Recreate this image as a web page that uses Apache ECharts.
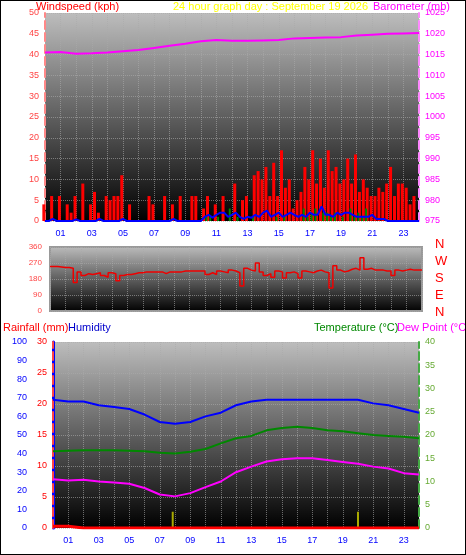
<!DOCTYPE html><html><head><meta charset="utf-8">
<script src="https://cdn.jsdelivr.net/npm/echarts@6/dist/echarts.min.js"></script>
<style>html,body{margin:0;padding:0;background:#fff}#c{width:466px;height:555px;box-sizing:border-box;border:1px solid #000}</style>
</head><body><div id="c"></div><script>
// 15-minute samples
const windGust=[4,0,6,0,6,0,4,2,6,0,9,0,4,7,2,0,6,5,6,6,11,0,4,0,0,0,0,6,4,0,0,6,0,4,0,6,0,0,6,6,0,3,6,0,4,0,6,0,0,9,0,5,6,0,11,12,10,13,6,14,6,17,8,10,3,5,7,13,10,17,9,15,8,17,12,13,9,10,15,9,16,7,10,8,6,6,8,7,9,13,6,9,9,8,4,6,0];
const windAvg=[0,0,0.5,0,0,0,0,0,0.4,0,0,0,0,0,0.5,0,0,0,0,0,0.5,0,0,0,0,0,0,0,0,0,0,0,0,0.5,0,0,0,0,0,0,0,1,1.5,0.8,1.5,2,2,1,1.5,2,1,0.5,1,0.8,1.5,1,2,2.5,1,1.5,2,1,1.5,2,1.5,1,1.5,1,2,1.5,1.5,3.5,1.5,1.5,1,2,1.5,2,2,1.5,1,1,1,1,1.5,0.5,0.5,0.5,0,0,0,0,0,0,0,0,0];
const windGreen=[0,0,0,0,0,0,0,0,0,0,0,0,0,0,0,0,0,0,0,0,0,0,0,0,0,0,0,0,0,0,0,0,0,0,0,0,0,0,0,0,0,1,1,0,1,0,0,3,0,1,0,0,0,1,0,0,0,0,0,1,0,1,0,0,0,0,3,1,2,3,0,2,2,1,2,0,1,0,3,1,2,1,3,0,0,0,0,0,0,0,0,0,0,0,0,0,0];
const windDir=[250,250,248,245,245,240,160,220,200,210,205,210,215,200,190,215,210,170,200,205,205,210,215,215,220,220,220,220,220,210,220,220,220,220,225,225,225,225,225,225,205,215,205,225,220,215,230,225,215,140,240,230,225,270,220,200,210,190,225,220,185,215,220,210,185,225,220,215,225,230,220,215,130,255,230,220,225,235,240,230,300,235,240,230,230,230,225,225,200,230,225,230,235,230,230,230,230];
const hours=[0,1,2,3,4,5,6,7,8,9,10,11,12,13,14,15,16,17,18,19,20,21,22,23,24];
const baro=[1015.5,1015.6,1015.2,1015.3,1015.5,1015.8,1016.1,1016.6,1017.1,1017.6,1018.2,1018.5,1018.3,1018.3,1018.4,1018.5,1018.9,1019.0,1019.1,1019.2,1019.6,1019.8,1020.0,1020.1,1020.2];
const humidity=[69,68,68,66,65,64,61,57,56,57,60,62,66,68,69,69,69,69,69,69,69,67,66,64,62];
const temperature=[16.5,16.6,16.7,16.7,16.7,16.6,16.5,16.2,16.0,16.4,17.0,18.2,19.3,19.8,21.0,21.5,21.8,21.5,21.0,20.8,20.4,20.0,19.8,19.6,19.3];
const dewPoint=[10.5,10.2,10.4,10.0,9.8,9.5,8.6,7.2,6.8,7.5,8.8,10.0,12.0,13.2,14.3,14.8,15.0,15.0,14.6,14.2,13.8,13.2,12.8,11.8,11.5];
const rainfall=[0.3,0,0,0,0,0,0,0,0,0,0,0,0,0,0,0,0,0,0,0,0,0,0,0,0];
const markers=[[7.85,3.5],[20,3.5]];
const dirLabels=['N','W','S','E','N'];

const q=(a)=>a.map((v,i)=>[i/4,v]);
const hz=(a)=>a.map((v,i)=>[hours[i],v]);
const F='Liberation Sans';
const bg={type:'linear',x:0,y:0,x2:0,y2:1,colorStops:[{offset:0,color:'#bdbdbd'},{offset:1,color:'#000'}]};
const sl={show:true,lineStyle:{color:'#aaa',type:'dotted',opacity:0.6}};
function xa(gi,lblColor){return {type:'value',gridIndex:gi,min:0,max:24,interval:1,axisLine:{show:false},axisTick:{show:false},
 splitLine:sl,axisLabel:{show:lblColor!=null,color:lblColor||'#00f',fontSize:9,fontFamily:F,formatter:v=>v%2==1?String(v).padStart(2,'0'):''}};}
function ya(gi,o){return Object.assign({type:'value',gridIndex:gi,axisTick:{show:false},
 splitLine:{show:false},axisLabel:{color:o.c,fontSize:9,fontFamily:F,margin:6,formatter:v=>String(v)}},o.x);}
const dl=(c,w,t)=>({show:true,lineStyle:{color:c,type:t||'dashed',width:w||2}});
const T=(t,l,top,c,fs)=>({text:t,left:l,top:top,padding:0,textStyle:{color:c,fontSize:fs||11,fontWeight:'normal',fontFamily:F}});
const opt={animation:false,backgroundColor:'#fff',
 title:[T('Windspeed (kph)',35,0,'#f00'),T('24 hour graph day : September 19 2026',172,0,'#ff0'),T('Barometer (mb)',372,0,'#f0f'),
  T('Rainfall (mm)',2,321,'#f00'),T('Humidity',67,321,'#00c'),T('Temperature (°C)',313,321,'#080'),T('Dew Point (°C)',396,321,'#f0f'),
  ...dirLabels.map((d,i)=>T(d,434,237+i*17,'#f00',13))],
 grid:[{left:44,top:12,width:374,height:208,show:true,backgroundColor:bg,borderWidth:0},
  {left:49,top:246,width:372,height:64,show:true,backgroundColor:bg,borderColor:'#999',borderWidth:2},
  {left:52,top:341,width:366,height:186,show:true,backgroundColor:bg,borderWidth:0}],
 xAxis:[xa(0,'#00f'),xa(1,null),xa(2,'#00f')],
 yAxis:[ya(0,{c:'#f44',x:{position:'left',min:0,max:50,interval:5,splitLine:sl,axisLine:dl('#f88')}}),
  ya(0,{c:'#f0f',x:{position:'right',min:975,max:1025,interval:5,axisLine:dl('#f8f')}}),
  ya(1,{c:'#f44',x:{position:'left',min:0,max:360,interval:90,splitLine:sl,axisLine:{show:false},axisLabel:{color:'#f44',fontSize:8,fontFamily:F}}}),
  ya(2,{c:'#00f',x:{position:'left',min:0,max:100,interval:10,offset:20,axisLine:dl('#00f',3,'solid')}}),
  ya(2,{c:'#f00',x:{position:'left',min:0,max:30,interval:5,splitLine:sl,axisLine:dl('#f44')}}),
  ya(2,{c:'#6a3',x:{position:'right',min:0,max:40,interval:5,axisLine:dl('#4a4')}})],
 series:[
  {type:'bar',xAxisIndex:0,yAxisIndex:0,data:q(windGust),barWidth:3,itemStyle:{color:'#f00'}},
  {type:'bar',xAxisIndex:0,yAxisIndex:0,data:q(windGreen),barWidth:2,itemStyle:{color:'#080'}},
  {type:'line',xAxisIndex:0,yAxisIndex:0,data:q(windAvg),symbol:'none',lineStyle:{color:'#00f',width:2}},
  {type:'line',xAxisIndex:0,yAxisIndex:1,data:hz(baro),symbol:'none',lineStyle:{color:'#f0f',width:2}},
  {type:'line',xAxisIndex:1,yAxisIndex:2,data:q(windDir),symbol:'none',step:'end',lineStyle:{color:'#e00',width:1.5}},
  {type:'line',xAxisIndex:2,yAxisIndex:3,data:hz(humidity),symbol:'none',lineStyle:{color:'#00f',width:2}},
  {type:'line',xAxisIndex:2,yAxisIndex:5,data:hz(temperature),symbol:'none',lineStyle:{color:'#080',width:2}},
  {type:'line',xAxisIndex:2,yAxisIndex:5,data:hz(dewPoint),symbol:'none',lineStyle:{color:'#f0f',width:2}},
  {type:'line',xAxisIndex:2,yAxisIndex:4,data:hz(rainfall),symbol:'none',step:'end',lineStyle:{color:'#f00',width:3}},
  {type:'bar',xAxisIndex:2,yAxisIndex:5,data:markers,barWidth:2,itemStyle:{color:'#aa0'}}
 ]};
echarts.init(document.getElementById('c')).setOption(opt);
</script></body></html>
